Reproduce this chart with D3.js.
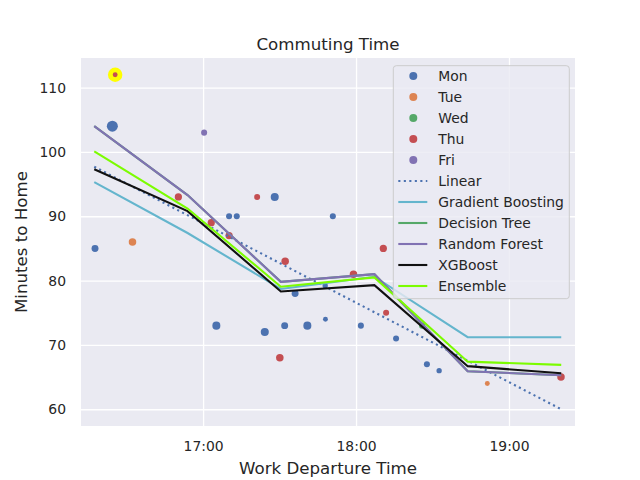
<!DOCTYPE html>
<html>
<head>
<meta charset="utf-8">
<script src="https://cdn.jsdelivr.net/npm/d3@7"></script>
<style>
  body { margin: 0; background: #fff; }
  text { font-family: 'DejaVu Sans', sans-serif; fill: #262626; }
</style>
</head>
<body>
<div id="chart"></div>
<script>
// Observed trips
const days = ['Mon', 'Tue', 'Wed', 'Thu', 'Fri'];
const dayColors = ['#4c72b0', '#dd8452', '#55a868', '#c44e52', '#8172b3'];

const departTimes = [
  '16:17.6', '16:24.4', '16:25.5', '16:32.3', '16:50.3', '17:00.4', '17:03.2',
  '17:05.2', '17:10.2', '17:10.2', '17:13.2', '17:21.2', '17:24.2', '17:28.1',
  '17:30.1', '17:32.0', '17:32.2', '17:36.1', '17:40.9', '17:47.9', '17:48.0',
  '17:50.9', '17:59.0', '18:01.9', '18:10.7', '18:11.8', '18:15.7', '18:25.9',
  '18:27.8', '18:32.6', '18:51.5', '19:20.4'
];
const minutesToHome = [
  85, 104, 112, 86, 93, 103, 89,
  73, 90, 87, 90, 93, 72, 93,
  68, 73, 83, 78, 73, 79.2, 74,
  90, 81, 73, 85, 75, 71, 73,
  67, 66, 64, 65
];
const tripDay = [
  'Mon', 'Mon', 'Thu', 'Tue', 'Thu', 'Fri', 'Thu',
  'Mon', 'Mon', 'Thu', 'Mon', 'Thu', 'Mon', 'Mon',
  'Thu', 'Mon', 'Thu', 'Mon', 'Mon', 'Mon', 'Mon',
  'Mon', 'Thu', 'Mon', 'Thu', 'Thu', 'Mon', 'Wed',
  'Mon', 'Mon', 'Tue', 'Thu'
];
const tripWeight = [
  12, 30, 6, 14, 13, 9, 13,
  16, 9, 13, 9, 9, 16, 16,
  14, 12, 14, 12, 16, 7, 6,
  9, 14, 9, 13, 9, 9, 9,
  9, 7, 6, 14
];

// Model predictions
const gridTimes = ['16:17.3', '16:53.9', '17:30.5', '18:07.2', '18:43.8', '19:20.5'];
const linearTimes = ['16:17.3', '19:20.5'];
const linearPred = [97.7, 60.0];
const gradientBoostingPred = [95.3, 87.4, 78.7, 80.6, 71.2, 71.2];
const decisionTreePred = [104.0, 93.3, 79.8, 81.0, 65.9, 65.3];
const randomForestPred = [104.0, 93.3, 79.8, 81.0, 65.9, 65.3];
const xgboostPred = [97.3, 90.8, 78.3, 79.3, 66.7, 65.6];
const ensemblePred = [100.1, 91.2, 79.05, 80.5, 67.4, 66.9];

const xTicks = [17, 18, 19];
const yTicks = [60, 70, 80, 90, 100, 110];

function parseTime(s) {
  const [h, m] = s.split(':');
  return +h + +m / 60;
}

const models = [
  { name: 'Linear', times: linearTimes, values: linearPred, color: '#4c72b0', dash: '2.1,3.4' },
  { name: 'Gradient Boosting', times: gridTimes, values: gradientBoostingPred, color: '#64b5cd' },
  { name: 'Decision Tree', times: gridTimes, values: decisionTreePred, color: '#55a868' },
  { name: 'Random Forest', times: gridTimes, values: randomForestPred, color: '#8172b3' },
  { name: 'XGBoost', times: gridTimes, values: xgboostPred, color: '#111111' },
  { name: 'Ensemble', times: gridTimes, values: ensemblePred, color: '#7cfc00' }
];

const trips = departTimes.map((t, i) => ({
  t: parseTime(t),
  v: minutesToHome[i],
  day: tripDay[i],
  w: tripWeight[i]
}));

const margin = { top: 58, right: 65, bottom: 54, left: 81 };
const width = 640 - margin.left - margin.right;
const height = 480 - margin.top - margin.bottom;

const svg = d3.select('#chart')
  .append('svg')
  .attr('width', 640)
  .attr('height', 480);

const g = svg.append('g')
  .attr('transform', `translate(${margin.left},${margin.top})`);

const x = d3.scaleLinear()
  .domain([parseTime('16:12.1'), parseTime('19:25.9')])
  .range([0, width]);

const y = d3.scaleLinear()
  .domain([57.4, 114.6])
  .range([height, 0]);

const r = d3.scaleSqrt().domain([0, 30]).range([0, 5.5]);
const dayColor = d3.scaleOrdinal().domain(days).range(dayColors);

// Background and grid
g.append('rect')
  .attr('width', width)
  .attr('height', height)
  .attr('fill', '#eaeaf2');

g.append('g')
  .attr('transform', `translate(0,${height})`)
  .call(d3.axisBottom(x).tickValues(xTicks).tickSize(-height).tickFormat(''))
  .call(s => s.select('.domain').remove())
  .call(s => s.selectAll('line').attr('stroke', '#fff').attr('stroke-width', 1.3));

g.append('g')
  .call(d3.axisLeft(y).tickValues(yTicks).tickSize(-width).tickFormat(''))
  .call(s => s.select('.domain').remove())
  .call(s => s.selectAll('line').attr('stroke', '#fff').attr('stroke-width', 1.3));

// Tick labels
g.append('g')
  .attr('transform', `translate(0,${height})`)
  .call(d3.axisBottom(x).tickValues(xTicks).tickSize(0).tickPadding(15)
    .tickFormat(d => d + ':00'))
  .call(s => s.select('.domain').remove())
  .call(s => s.selectAll('text').attr('font-size', '13.9px').attr('fill', '#262626')
    .attr('font-family', 'DejaVu Sans'));

g.append('g')
  .call(d3.axisLeft(y).tickValues(yTicks).tickSize(0).tickPadding(15))
  .call(s => s.select('.domain').remove())
  .call(s => s.selectAll('text').attr('font-size', '13.9px').attr('fill', '#262626')
    .attr('font-family', 'DejaVu Sans'));

// Highlight the longest trip
const worst = trips[d3.maxIndex(trips, d => d.v)];
g.append('circle')
  .attr('cx', x(worst.t))
  .attr('cy', y(worst.v))
  .attr('r', 7.2)
  .attr('fill', '#ffff00');

// Trips
g.selectAll('.trip')
  .data(trips)
  .enter()
  .append('circle')
  .attr('class', 'trip')
  .attr('cx', d => x(d.t))
  .attr('cy', d => y(d.v))
  .attr('r', d => r(d.w))
  .attr('fill', d => dayColor(d.day));

// Model lines
const line = d3.line()
  .x(d => x(d[0]))
  .y(d => y(d[1]));

g.selectAll('.model')
  .data(models)
  .enter()
  .append('path')
  .attr('class', 'model')
  .attr('d', m => line(m.times.map((t, i) => [parseTime(t), m.values[i]])))
  .attr('fill', 'none')
  .attr('stroke', m => m.color)
  .attr('stroke-width', 2.1)
  .attr('stroke-dasharray', m => m.dash || null);

// Legend
const legend = g.append('g')
  .attr('transform', `translate(${393.3 - margin.left},${65.7 - margin.top})`);

legend.append('rect')
  .attr('width', 176)
  .attr('height', 233)
  .attr('rx', 3)
  .attr('fill', '#eaeaf2')
  .attr('fill-opacity', 0.8)
  .attr('stroke', '#cccccc')
  .attr('stroke-width', 1);

const entries = days.map((d, i) => ({ name: d, color: dayColors[i], type: 'dot' }))
  .concat(models.map(m => ({ name: m.name, color: m.color, dash: m.dash, type: 'line' })));

const item = legend.selectAll('.item')
  .data(entries)
  .enter()
  .append('g')
  .attr('class', 'item')
  .attr('transform', (d, i) => `translate(0,${10.3 + i * 21})`);

item.filter(d => d.type === 'dot')
  .append('circle')
  .attr('cx', 20)
  .attr('r', 4)
  .attr('fill', d => d.color);

item.filter(d => d.type === 'line')
  .append('line')
  .attr('x1', 5)
  .attr('x2', 34)
  .attr('stroke', d => d.color)
  .attr('stroke-width', 2.1)
  .attr('stroke-dasharray', d => d.dash || null);

item.append('text')
  .attr('x', 45)
  .attr('dy', '0.35em')
  .attr('font-size', '13.9px')
  .text(d => d.name);

// Titles
svg.append('text')
  .attr('x', margin.left + width / 2)
  .attr('y', 49.5)
  .attr('text-anchor', 'middle')
  .attr('font-size', '16.67px')
  .text('Commuting Time');

svg.append('text')
  .attr('x', margin.left + width / 2)
  .attr('y', 474)
  .attr('text-anchor', 'middle')
  .attr('font-size', '16.67px')
  .text('Work Departure Time');

svg.append('text')
  .attr('transform', `translate(26.5,${margin.top + height / 2}) rotate(-90)`)
  .attr('text-anchor', 'middle')
  .attr('font-size', '16.67px')
  .text('Minutes to Home');
</script>
</body>
</html>
